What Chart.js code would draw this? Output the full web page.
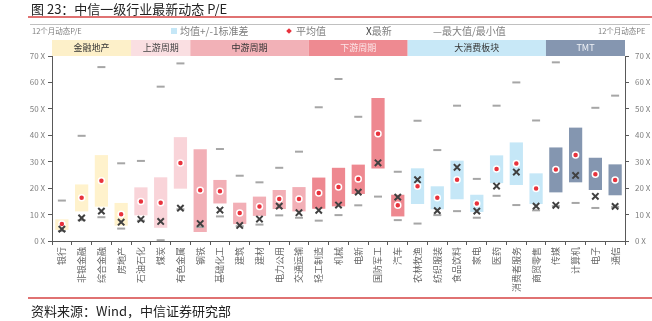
<!DOCTYPE html>
<html>
<head>
<meta charset="utf-8">
<script src="https://cdn.jsdelivr.net/npm/chart.js@4/dist/chart.umd.min.js"></script>
<style>
  body { margin: 0; background: #fff; font-family: "Noto Sans CJK SC", "Noto Sans", sans-serif; }
  #wrap { position: relative; width: 652px; height: 321px; overflow: hidden; }
  #c { position: absolute; left: 0; top: 0; }
  .abs { position: absolute; white-space: nowrap; }
  .title { left: 31px; top: 0px; font-size: 13px; line-height: 17px; color: #222; }
  .redline { left: 28px; right: 0; height: 2px; background: #e07272; }
  .grayline { left: 30px; right: 2px; top: 24px; height: 1px; background: #c0c0c0; }
  .small { font-size: 7.5px; color: #808080; top: 26px; line-height: 10px; }
  .leg { top: 25px; font-size: 10px; line-height: 12px; color: #7f7f7f; }
  .src { left: 31px; top: 303px; font-size: 13px; line-height: 16px; color: #222; }
</style>
</head>
<body>
<div id="wrap">
  <canvas id="c" width="652" height="321"></canvas>
  <div class="abs title">图 23：中信一级行业最新动态 P/E</div>
  <div class="abs redline" style="top:16px"></div>
  <div class="abs grayline"></div>
  <div class="abs small" style="left:32px">12个月动态P/E</div>
  <div class="abs" style="left:171px;top:28px;width:6px;height:6px;background:#c5e7f7"></div>
  <div class="abs leg" style="left:180px">均值+/-1标准差</div>
  <div class="abs" style="left:287px;top:29px;width:4px;height:4px;background:#e8323c;transform:rotate(45deg)"></div>
  <div class="abs leg" style="left:296px">平均值</div>
  <div class="abs leg" style="left:366px"><span style="color:#404040">X</span>最新</div>
  <div class="abs leg" style="left:433px">—最大值/最小值</div>
  <div class="abs small" style="left:598px">12个月动态PE</div>
  <div class="abs redline" style="top:297px"></div>
  <div class="abs src">资料来源：Wind，中信证券研究部</div>
</div>
<script>
// CITIC level-1 industries, 12m forward P/E
const categories = ["银行", "非银金融", "综合金融", "房地产", "石油石化", "煤炭", "有色金属", "钢铁", "基础化工", "建筑",
  "建材", "电力公用", "交通运输", "轻工制造", "机械", "电新", "国防军工", "汽车", "农林牧渔", "纺织服装",
  "食品饮料", "家电", "医药", "消费者服务", "商贸零售", "传媒", "计算机", "电子", "通信"];

const groupNames = ["金融地产", "上游周期", "中游周期", "下游周期", "大消费板块", "TMT"];
const groupSizes = [4, 3, 6, 5, 7, 4];

// mean -1 sd / mean +1 sd
const sdLow = [4.2, 11.2, 13.0, 5.8, 9.7, 5.0, 19.8, 3.4, 14.2, 6.4, 9.5, 12.1, 11.2, 12.2, 13.1, 17.8, 27.4, 9.3, 14.0, 12.0,
  15.8, 11.0, 21.9, 21.2, 14.0, 18.4, 22.2, 19.3, 17.3];
const sdHigh = [8.2, 21.4, 32.5, 14.4, 20.3, 24.1, 39.3, 34.7, 23.1, 14.5, 16.8, 19.3, 20.4, 24.0, 27.7, 28.9, 54.1, 17.5, 27.5, 20.7,
  30.4, 17.5, 32.4, 37.3, 25.6, 35.4, 42.9, 31.5, 29.0];
const meanPE = [6.4, 16.4, 22.8, 10.1, 14.9, 14.5, 29.5, 19.2, 18.8, 10.6, 13.1, 15.9, 15.9, 18.2, 20.4, 23.5, 40.6, 13.5, 20.7, 16.4,
  23.2, 14.2, 27.2, 29.3, 19.9, 27.1, 32.5, 25.3, 23.1];
const latestPE = [4.5, 8.7, 11.3, 7.1, 8.2, 7.4, 12.4, 6.6, 11.7, 5.9, 8.3, 13.2, 10.7, 11.6, 13.6, 18.5, 29.6, 16.6, 23.2, 11.5,
  27.9, 11.3, 20.8, 26.1, 13.2, 13.5, 24.8, 16.9, 13.1];
// null = above 70X, off the chart
const maxPE = [15.3, 39.8, 65.8, 29.4, 30.3, 58.4, 67.2, null, 34.8, 24.7, 22.2, 27.7, 33.8, 50.6, 61.3, 47.0, null, 26.2, 45.5, 34.4,
  51.2, 23.5, 51.2, 60.0, 45.6, 67.6, null, 50.4, 55.0];
const minPE = [3.8, 7.9, 9.0, 4.7, 7.7, 0.3, 12.0, 5.3, 9.3, 5.6, 6.2, 9.7, 8.8, 7.7, 9.8, 13.5, 16.8, 7.9, 6.6, 9.8,
  11.3, 8.8, 17.1, 13.6, 11.6, 13.2, 14.4, 12.5, 12.9];

const yTicks = [0, 10, 20, 30, 40, 50, 60, 70];

const BAR_COLORS = ["#fff2cc", "#f9d4d9", "#f2afb6", "#ee8890", "#c5e7f7", "#8496b0"];
const BAND_COLORS = ["#fdf0c9", "#fadfe2", "#f2b1b7", "#ee8a91", "#c8e8f7", "#8596b0"];
const BAND_TEXT = ["#333", "#444", "#333", "#fbe6e8", "#333", "#eef1f6"];
const AXIS = "#595959";
const FONT = '"Noto Sans CJK SC", "Noto Sans", sans-serif';

const barColors = [];
groupSizes.forEach((n, g) => { for (let i = 0; i < n; i++) barColors.push(BAR_COLORS[g]); });

// group header strip above the plot
const groupBands = {
  id: "groupBands",
  afterDraw(chart) {
    const { ctx, chartArea, scales: { x } } = chart;
    const half = (x.getPixelForValue(1) - x.getPixelForValue(0)) / 2;
    let start = 0;
    ctx.save();
    groupNames.forEach((name, g) => {
      const end = start + groupSizes[g] - 1;
      const x0 = x.getPixelForValue(start) - half, x1 = x.getPixelForValue(end) + half;
      ctx.fillStyle = BAND_COLORS[g];
      ctx.fillRect(x0, chartArea.top - 16, x1 - x0, 16);
      ctx.fillStyle = BAND_TEXT[g];
      ctx.font = "9px " + FONT;
      ctx.textAlign = "center";
      ctx.textBaseline = "middle";
      ctx.fillText(name, (x0 + x1) / 2, chartArea.top - 8);
      start = end + 1;
    });
    ctx.restore();
  },
};

const marker = (label, data, extra) => ({ type: "line", label, data, showLine: false, pointHoverRadius: 0, ...extra });

const yAxis = (pos, width, pad) => ({
  type: "linear", position: pos, min: 0, max: 70,
  afterBuildTicks: (s) => { s.ticks = yTicks.map((v) => ({ value: v })); },
  afterFit: (s) => { s.width = width; },
  border: { color: AXIS, width: 1 },
  grid: { drawOnChartArea: false, tickLength: 4, color: AXIS },
  ticks: { padding: pad, color: "#7f7f7f", font: { size: 8, family: FONT }, callback: (v) => v + " X" },
});

new Chart(document.getElementById("c"), {
  type: "bar",
  data: {
    labels: categories,
    datasets: [
      { label: "均值+/-1标准差", data: sdLow.map((l, i) => [l, sdHigh[i]]), backgroundColor: barColors,
        barPercentage: 0.67, categoryPercentage: 1, order: 3 },
      marker("最大值", maxPE, { pointStyle: "line", pointRadius: 4, borderColor: "#a6a6a6", pointBorderWidth: 2, order: 2 }),
      marker("最小值", minPE, { pointStyle: "line", pointRadius: 4, borderColor: "#a6a6a6", pointBorderWidth: 2, order: 2 }),
      marker("平均值", meanPE, { pointStyle: "circle", pointRadius: 3, backgroundColor: "#e8323c", borderColor: "#fff", pointBorderWidth: 1.5, order: 1 }),
      marker("最新", latestPE, { pointStyle: "crossRot", pointRadius: 4.5, borderColor: "#404040", pointBorderWidth: 2, order: 0 }),
    ],
  },
  options: {
    responsive: false,
    animation: false,
    layout: { padding: { top: 56, left: 0, right: 0, bottom: 0 } },
    plugins: { legend: { display: false }, tooltip: { enabled: false } },
    scales: {
      x: {
        offset: true,
        afterFit: (s) => { s.height = 80; },
        border: { color: AXIS, width: 1 },
        grid: { drawOnChartArea: false, tickLength: 4, color: AXIS, offset: true },
        ticks: { autoSkip: false, maxRotation: 90, minRotation: 90, padding: 2, color: "#666", font: { size: 9, family: FONT } },
      },
      y: yAxis("left", 52, 3),
      y2: yAxis("right", 27, 6),
    },
  },
  plugins: [groupBands],
});
</script>
</body>
</html>
